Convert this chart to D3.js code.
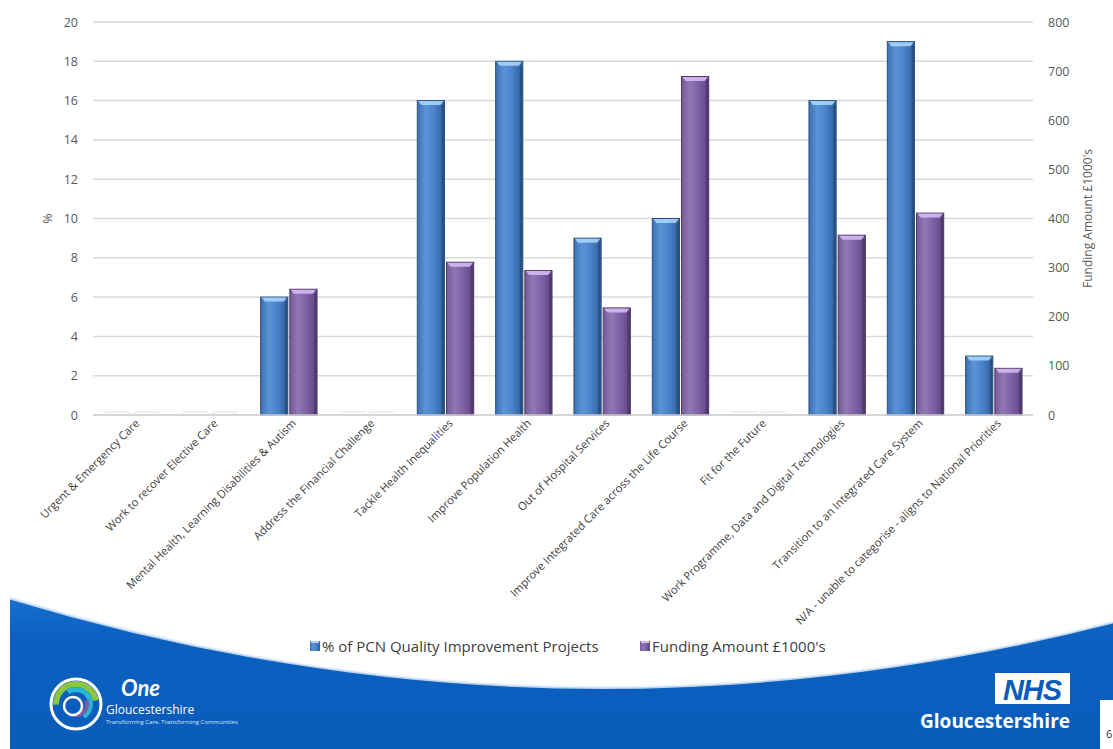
<!DOCTYPE html>
<html><head><meta charset="utf-8">
<script src="https://cdn.jsdelivr.net/npm/d3@7"></script>
<style>
html,body{margin:0;padding:0;background:#fff;}
svg{display:block;font-family:"Open Sans",sans-serif;}
</style></head>
<body>
<svg id="chart" width="1113" height="749"></svg>
<script>
const categories = [
  "Urgent & Emergency Care",
  "Work to recover Elective Care",
  "Mental Health, Learning Disabilities & Autism",
  "Address the Financial Challenge",
  "Tackle Health Inequalities",
  "Improve Population Health",
  "Out of Hospital Services",
  "Improve Integrated Care across the Life Course",
  "Fit for the Future",
  "Work Programme, Data and Digital Technologies",
  "Transition to an Integrated Care System",
  "N/A - unable to categorise - aligns to National Priorities"
];
const pctProjects = [0, 0, 6, 0, 16, 18, 9, 10, 0, 16, 19, 3];
const funding = [0, 0, 256, 0, 311, 294, 218, 689, 0, 366, 411, 95];
const leftTicks = [0,2,4,6,8,10,12,14,16,18,20];
const rightTicks = [0,100,200,300,400,500,600,700,800];
const seriesNames = ["% of PCN Quality Improvement Projects", "Funding Amount £1000's"];

const svg = d3.select("#chart");
const W = 1113, H = 749;
const plot = {left: 93, right: 1033, top: 22, bottom: 415};

// gradients
const defs = svg.append("defs");
function hgrad(id, stops){
  const g = defs.append("linearGradient").attr("id", id).attr("x1","0").attr("x2","1").attr("y1","0").attr("y2","0");
  stops.forEach(s => g.append("stop").attr("offset", s[0]).attr("stop-color", s[1]));
}
hgrad("gBlue", [[0,"#3c70b3"],[0.3,"#5b93d6"],[0.6,"#4a84cb"],[1,"#2f5f9c"]]);
hgrad("gPurple", [[0,"#765a99"],[0.3,"#9078b4"],[0.6,"#7f62a6"],[1,"#5e4582"]]);
const bgGrad = defs.append("linearGradient").attr("id","gBg").attr("x1","0").attr("x2","0").attr("y1","0").attr("y2","1");
bgGrad.append("stop").attr("offset",0).attr("stop-color","#1670cf");
bgGrad.append("stop").attr("offset",0.25).attr("stop-color","#0b60c0");
bgGrad.append("stop").attr("offset",1).attr("stop-color","#0a5cba");

// bottom swoosh
svg.append("path")
  .attr("d", "M10,598 Q558,764 1113,622 L1113,700 L1100,700 L1100,749 L10,749 Z")
  .attr("fill", "url(#gBg)");
svg.append("path")
  .attr("d", "M10,598 Q558,764 1113,622")
  .attr("fill","none").attr("stroke","#e6f0fb").attr("stroke-width",3).attr("opacity",0.8);

// scales
const x0 = d3.scaleBand().domain(categories).range([plot.left, plot.right]).paddingInner(0.28).paddingOuter(0.14);
const x1 = d3.scaleBand().domain([0,1]).range([0, x0.bandwidth()]).paddingInner(0.07);
const yL = d3.scaleLinear().domain([0,20]).range([plot.bottom, plot.top]);
const yR = d3.scaleLinear().domain([0,800]).range([plot.bottom, plot.top]);

// gridlines
svg.append("g").selectAll("line").data(leftTicks).join("line")
  .attr("x1", plot.left).attr("x2", plot.right)
  .attr("y1", d => yL(d)).attr("y2", d => yL(d))
  .attr("stroke", "#d9d9d9").attr("stroke-width", 1.5);

// left axis
const axL = svg.append("g").attr("transform", `translate(${plot.left},0)`)
  .call(d3.axisLeft(yL).tickValues(leftTicks).tickSize(0).tickPadding(15));
axL.select(".domain").remove();
axL.selectAll("text").attr("font-size", 12.5).attr("fill", "#595959").attr("font-family","Open Sans");

const axR = svg.append("g").attr("transform", `translate(${plot.right},0)`)
  .call(d3.axisRight(yR).tickValues(rightTicks).tickSize(0).tickPadding(15));
axR.select(".domain").remove();
axR.selectAll("text").attr("font-size", 12.5).attr("fill", "#595959").attr("font-family","Open Sans");

svg.append("text").attr("transform", `translate(52,${(plot.top+plot.bottom)/2}) rotate(-90)`)
  .attr("text-anchor","middle").attr("font-size",12.5).attr("fill","#595959").text("%");
svg.append("text").attr("transform", `translate(1092,${(plot.top+plot.bottom)/2}) rotate(-90)`)
  .attr("text-anchor","middle").attr("font-size",12).attr("fill","#595959").text("Funding Amount £1000's");

// bars
const rows = categories.map((c,i) => ({c, vals: [
  {s:0, v: pctProjects[i], y: yL(pctProjects[i])},
  {s:1, v: funding[i], y: yR(funding[i])}
]}));
const groups = svg.append("g").selectAll("g").data(rows).join("g")
  .attr("transform", d => `translate(${x0(d.c)},0)`);
const bars = groups.selectAll("g").data(d => d.vals).join("g");
bars.each(function(d){
  const g = d3.select(this);
  const bx = x1(d.s), bw = x1.bandwidth();
  if (d.v === 0) {
    g.append("rect").attr("x", bx+1).attr("y", plot.bottom-3).attr("width", bw-2).attr("height", 3)
      .attr("fill","#fbfbfb").attr("stroke","#e4e4e4").attr("stroke-width",1).attr("rx",1.5);
    return;
  }
  const h = plot.bottom - d.y;
  g.append("rect").attr("x", bx).attr("y", d.y).attr("width", bw).attr("height", h)
    .attr("fill", d.s === 0 ? "url(#gBlue)" : "url(#gPurple)")
    .attr("stroke", d.s === 0 ? "#2b4f7e" : "#4b3766").attr("stroke-width", 1);
  g.append("path")
    .attr("d", `M${bx+1},${d.y+0.5} L${bx+bw-1},${d.y+0.5} L${bx+bw-4},${d.y+4.5} L${bx+4},${d.y+4.5} Z`)
    .attr("fill", d.s === 0 ? "#a6d4fa" : "#d6b9f3").attr("opacity",0.9);
  g.append("rect").attr("x", bx+bw-3).attr("y", d.y+4).attr("width", 2.5).attr("height", h-4)
    .attr("fill", d.s === 0 ? "#23466f" : "#45315c").attr("opacity", 0.6);
});

// baseline
svg.append("line").attr("x1", plot.left).attr("x2", plot.right).attr("y1", plot.bottom).attr("y2", plot.bottom)
  .attr("stroke","#d0d0d0").attr("stroke-width",1.5);

// x labels
svg.append("g").selectAll("text").data(categories).join("text")
  .attr("transform", d => `translate(${x0(d)+x0.bandwidth()/2+8},${plot.bottom+9}) rotate(-45)`)
  .attr("text-anchor","end").attr("font-size",11.2).attr("fill","#404040")
  .text(d => d);

// legend
const legend = svg.append("g").attr("font-size",15).attr("fill","#404040");
const legendItems = [{x:310, name: seriesNames[0], grad:"url(#gBlue)"}, {x:640, name: seriesNames[1], grad:"url(#gPurple)"}];
legendItems.forEach(it => {
  legend.append("rect").attr("x", it.x).attr("y", 641).attr("width", 10).attr("height", 10).attr("fill", it.grad);
  legend.append("rect").attr("x", it.x+1).attr("y", 641).attr("width", 8).attr("height", 2)
    .attr("fill", it.grad === "url(#gBlue)" ? "#a6d4fa" : "#d6b9f3");
  legend.append("text").attr("x", it.x+12).attr("y", 652).attr("fill","#404040").text(it.name);
});

// One Gloucestershire logo
const logo = svg.append("g").attr("transform","translate(76,704)");
logo.append("circle").attr("r",25).attr("fill","none").attr("stroke","#ffffff").attr("stroke-width",3);
const arc = d3.arc();
logo.append("path").attr("d", arc({innerRadius:17, outerRadius:23, startAngle:-1.6, endAngle:1.4})).attr("fill","#8cc63f");
logo.append("path").attr("d", arc({innerRadius:12, outerRadius:17, startAngle:-0.6, endAngle:2.6})).attr("fill","#29b5d6");
logo.append("path").attr("d", arc({innerRadius:9, outerRadius:13, startAngle:1.2, endAngle:3.4})).attr("fill","#7b5aa6");
logo.append("circle").attr("cx",-3).attr("cy",2).attr("r",9).attr("fill","none").attr("stroke","#ffffff").attr("stroke-width",2.5);
svg.append("text").attr("x",121).attr("y",696).attr("font-size",22).attr("font-style","italic").attr("font-weight","bold")
  .attr("fill","#ffffff").attr("font-family","Lato").text("One");
svg.append("text").attr("x",106).attr("y",714).attr("font-size",12).attr("fill","#ffffff").attr("font-family","Liberation Sans Narrow, Open Sans").text("Gloucestershire");
svg.append("text").attr("x",106).attr("y",724).attr("font-size",6).attr("fill","#d6e6f7").text("Transforming Care, Transforming Communities");

// NHS logo
svg.append("rect").attr("x",995).attr("y",673).attr("width",75).attr("height",31).attr("fill","#ffffff");
svg.append("text").attr("x",1032).attr("y",700).attr("text-anchor","middle").attr("font-size",29)
  .attr("font-weight","bold").attr("font-style","italic").attr("font-family","Liberation Sans").attr("fill","#0a5cba")
  .attr("letter-spacing",-1).text("NHS");
svg.append("text").attr("x",1070).attr("y",728).attr("text-anchor","end").attr("font-size",19)
  .attr("font-weight","bold").attr("fill","#ffffff").attr("font-family","Open Sans").text("Gloucestershire");
svg.append("text").attr("x",1106).attr("y",738).attr("font-size",11).attr("fill","#333").text("6");
</script>
</body></html>
